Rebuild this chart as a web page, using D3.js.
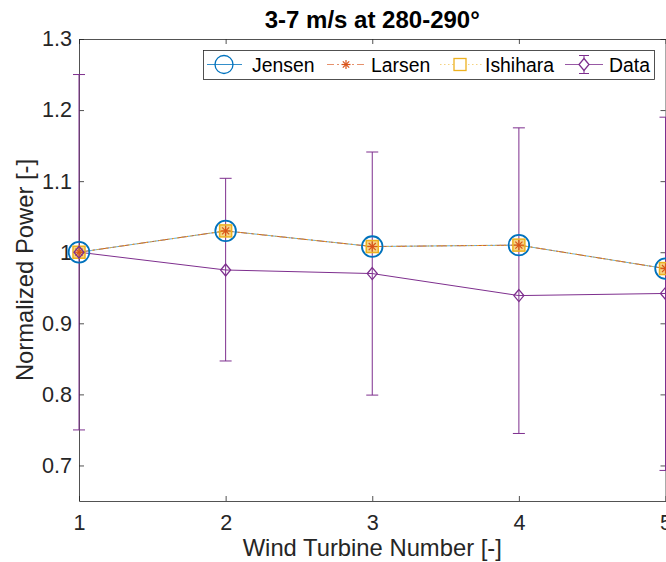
<!DOCTYPE html>
<html>
<head>
<meta charset="utf-8">
<title>Normalized power 280-290</title>
<script src="https://d3js.org/d3.v7.min.js"></script>
<style>
  body { margin: 0; background: #fff; }
  text { font-family: "Liberation Sans", Arial, Helvetica, sans-serif; fill: #262626; }
</style>
</head>
<body>
<svg id="chart" width="666" height="562"></svg>
<script>
// values
const turbines = [1, 2, 3, 4, 5];
const jensen   = [1.000, 1.030, 1.008, 1.010, 0.977];
const larsen   = [1.000, 1.030, 1.008, 1.010, 0.977];
const ishihara = [1.000, 1.030, 1.008, 1.010, 0.977];
const measured = [1.000, 0.975, 0.970, 0.939, 0.942];
const errLow   = [0.750, 0.847, 0.799, 0.745, 0.693];
const errHigh  = [1.250, 1.104, 1.141, 1.175, 1.190];
const yTicks = [0.7, 0.8, 0.9, 1.0, 1.1, 1.2, 1.3];
const legendNames = ['Jensen', 'Larsen', 'Ishihara', 'Data'];

const c = { jensen: '#0072BD', larsen: '#D95319', ishihara: '#EDB120', data: '#7E2F8E' };

const svg = d3.select('#chart');
const margin = { top: 39, left: 79, bottom: 501, right: 665.5 };

const x = d3.scaleLinear().domain([1, 5]).range([margin.left, margin.right]);
const y = d3.scaleLinear().domain([0.65, 1.3]).range([margin.bottom, margin.top]);

const g = svg.append('g');

// axes box (matlab style, ticks inward)
const fmt = d => d === 1 ? '1' : d3.format('.1f')(d);
const axLeft = g.append('g').attr('transform', `translate(${margin.left},0)`)
  .call(d3.axisLeft(y).tickValues(yTicks).tickFormat(fmt).tickSizeInner(-5).tickSizeOuter(0).tickPadding(7));
const axRight = g.append('g').attr('transform', `translate(${margin.right},0)`)
  .call(d3.axisRight(y).tickValues(yTicks).tickFormat('').tickSizeInner(-5).tickSizeOuter(0));
const axBottom = g.append('g').attr('transform', `translate(0,${margin.bottom})`)
  .call(d3.axisBottom(x).tickValues(turbines).tickFormat(d3.format('d')).tickSizeInner(-5).tickSizeOuter(0).tickPadding(14));
const axTop = g.append('g').attr('transform', `translate(0,${margin.top})`)
  .call(d3.axisTop(x).tickValues(turbines).tickFormat('').tickSizeInner(-5).tickSizeOuter(0));

[axLeft, axRight, axBottom, axTop].forEach(a => {
  a.selectAll('.domain').attr('stroke', '#262626').attr('stroke-width', 0.8);
  a.selectAll('.tick line').attr('stroke', '#262626').attr('stroke-width', 0.8);
  a.selectAll('.tick text').attr('font-size', 21.6).style('fill', '#262626')
    .attr('font-family', '"Liberation Sans", Arial, sans-serif');
});

// lines
const line = vals => d3.line().x((d, i) => x(turbines[i])).y(d => y(d))(vals);

// data with error bars
const eb = g.append('g');
turbines.forEach((t, i) => {
  eb.append('line').attr('x1', x(t)).attr('x2', x(t)).attr('y1', y(errLow[i])).attr('y2', y(errHigh[i]))
    .attr('stroke', c.data).attr('stroke-width', 1);
  [errLow[i], errHigh[i]].forEach(v => {
    eb.append('line').attr('x1', x(t) - 6).attr('x2', x(t) + 6).attr('y1', y(v)).attr('y2', y(v))
      .attr('stroke', c.data).attr('stroke-width', 1);
  });
});
g.append('path').attr('d', line(measured)).attr('fill', 'none').attr('stroke', c.data).attr('stroke-width', 1);

g.append('path').attr('d', line(jensen)).attr('fill', 'none').attr('stroke', c.jensen).attr('stroke-width', 0.6);
g.append('path').attr('d', line(larsen)).attr('fill', 'none').attr('stroke', c.larsen).attr('stroke-width', 1)
  .attr('stroke-dasharray', '10,4,2,4').attr('opacity', 0.85);
g.append('path').attr('d', line(ishihara)).attr('fill', 'none').attr('stroke', c.ishihara).attr('stroke-width', 1)
  .attr('stroke-dasharray', '1.5,3');

// markers
const star = (sel, cx, cy, r, col) => {
  [0, 45, 90, 135].forEach(a => {
    const rad = a * Math.PI / 180;
    sel.append('line').attr('x1', cx - r * Math.cos(rad)).attr('y1', cy - r * Math.sin(rad))
      .attr('x2', cx + r * Math.cos(rad)).attr('y2', cy + r * Math.sin(rad))
      .attr('stroke', col).attr('stroke-width', 1.2);
  });
};
const diamond = (sel, cx, cy, col) => sel.append('path')
  .attr('d', `M${cx},${cy - 6}L${cx + 5},${cy}L${cx},${cy + 6}L${cx - 5},${cy}Z`)
  .attr('fill', 'none').attr('stroke', col).attr('stroke-width', 1.3);

const mk = g.append('g');
turbines.forEach((t, i) => {
  mk.append('circle').attr('cx', x(t)).attr('cy', y(jensen[i])).attr('r', 10.3)
    .attr('fill', 'none').attr('stroke', c.jensen).attr('stroke-width', 1.8);
});
turbines.forEach((t, i) => {
  mk.append('rect').attr('x', x(t) - 6).attr('y', y(ishihara[i]) - 6).attr('width', 12).attr('height', 12)
    .attr('fill', 'rgba(237,177,32,0.55)').attr('stroke', c.ishihara).attr('stroke-width', 1.5);
});
turbines.forEach((t, i) => star(mk, x(t), y(larsen[i]), 5, c.larsen));
turbines.forEach((t, i) => diamond(mk, x(t), y(measured[i]), c.data));

// title and labels
const midX = (margin.left + margin.right) / 2;
svg.append('text').attr('x', midX).attr('y', 28).attr('text-anchor', 'middle')
  .attr('font-size', 24).attr('font-weight', 'bold').style('fill', '#000').text('3-7 m/s at 280-290°');
svg.append('text').attr('x', midX).attr('y', 556).attr('text-anchor', 'middle')
  .attr('font-size', 23.8).text('Wind Turbine Number [-]');
svg.append('text').attr('transform', `translate(33,${(margin.top + margin.bottom) / 2}) rotate(-90)`)
  .attr('text-anchor', 'middle').attr('font-size', 23.8).text('Normalized Power [-]');

// legend
const lg = svg.append('g');
lg.append('rect').attr('x', 203.5).attr('y', 50.5).attr('width', 451).attr('height', 29)
  .attr('fill', '#fff').attr('stroke', '#262626').attr('stroke-width', 0.8);
const lineX = [[207, 242], [327, 367], [440, 482], [565, 603]];
const iconX = [224, 346, 460, 584];
const textX = [252, 371, 485, 609];
const ly = 64.5;
legendNames.forEach((name, i) => {
  const [x0, x1] = lineX[i], cx = iconX[i];
  const it = lg.append('g');
  if (i === 0) {
    it.append('line').attr('x1', x0).attr('x2', x1).attr('y1', ly).attr('y2', ly).attr('stroke', c.jensen).attr('stroke-width', 0.8);
    it.append('circle').attr('cx', cx).attr('cy', ly).attr('r', 9).attr('fill', 'none').attr('stroke', c.jensen).attr('stroke-width', 1.3);
  } else if (i === 1) {
    it.append('line').attr('x1', x0).attr('x2', x1).attr('y1', ly).attr('y2', ly).attr('stroke', c.larsen)
      .attr('stroke-width', 0.8).attr('stroke-dasharray', '7,3,2,3').attr('opacity', 0.8);
    star(it, cx, ly, 4.5, c.larsen);
  } else if (i === 2) {
    it.append('line').attr('x1', x0).attr('x2', x1).attr('y1', ly).attr('y2', ly).attr('stroke', c.ishihara)
      .attr('stroke-width', 0.8).attr('stroke-dasharray', '1.5,2.5').attr('opacity', 0.7);
    it.append('rect').attr('x', cx - 6).attr('y', ly - 6).attr('width', 12).attr('height', 12)
      .attr('fill', '#fff').attr('stroke', c.ishihara).attr('stroke-width', 1.3);
  } else {
    it.append('line').attr('x1', x0).attr('x2', x1).attr('y1', ly).attr('y2', ly).attr('stroke', c.data).attr('stroke-width', 0.8);
    it.append('line').attr('x1', cx).attr('x2', cx).attr('y1', ly - 9).attr('y2', ly + 9).attr('stroke', c.data);
    it.append('line').attr('x1', cx - 5).attr('x2', cx + 5).attr('y1', ly - 9).attr('y2', ly - 9).attr('stroke', c.data);
    it.append('line').attr('x1', cx - 5).attr('x2', cx + 5).attr('y1', ly + 9).attr('y2', ly + 9).attr('stroke', c.data);
    diamond(it, cx, ly, c.data).attr('fill', '#fff');
  }
  it.append('text').attr('x', textX[i]).attr('y', 71.5).attr('font-size', 19.4).style('fill', '#000').text(name);
});
</script>
</body>
</html>
